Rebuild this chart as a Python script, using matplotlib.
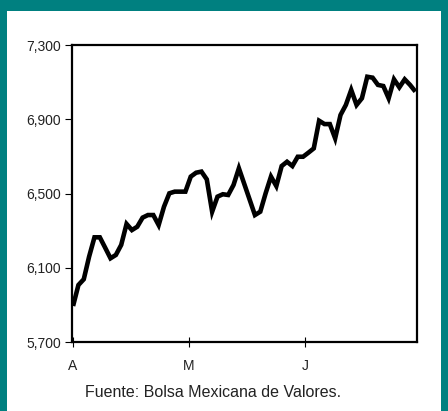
import matplotlib
matplotlib.use("Agg")
import matplotlib.pyplot as plt
from matplotlib.patches import Rectangle

values = [5894, 6007, 6038, 6160, 6264, 6264, 6208, 6151, 6169, 6223,
          6336, 6303, 6321, 6370, 6384, 6384, 6330, 6429, 6501, 6510,
          6510, 6510, 6591, 6612, 6618, 6576, 6402, 6483, 6496, 6492,
          6546, 6636, 6552, 6468, 6384, 6402, 6501, 6591, 6540, 6648,
          6671, 6648, 6698, 6698, 6720, 6743, 6892, 6874, 6874, 6797,
          6923, 6977, 7058, 6977, 7013, 7129, 7124, 7085, 7079, 7013,
          7115, 7072, 7115, 7085, 7049]
month_labels = ["A", "M", "J"]
month_pos = [0, 21.6, 43.4]
y_ticks = [5700, 6100, 6500, 6900, 7300]
source = "Fuente: Bolsa Mexicana de Valores."

W, H = 448, 411
fig = plt.figure(figsize=(W / 100, H / 100), dpi=100)
fig.patch.set_facecolor("#008080")
fig.patches.append(Rectangle((7 / W, 0), (441 - 7) / W, (H - 11) / H,
                             transform=fig.transFigure, facecolor="white",
                             edgecolor="none", zorder=-5))

ax = fig.add_axes([72 / W, 1 - 342 / H, (417 - 72) / W, (342 - 45) / H])
ax.set_zorder(2)
ax.plot(range(len(values)), values, color="black", lw=3.3,
        solid_joinstyle="miter", solid_capstyle="butt")
ax.set_xlim(-0.2, 64.3)
ax.set_ylim(5700, 7300)
ax.set_yticks(y_ticks)
ax.set_yticklabels([f"{v:,}" for v in y_ticks], fontsize=10,
                   family="Liberation Sans", color="#222222")
ax.set_xticks(month_pos)
ax.set_xticklabels(month_labels, fontsize=10, family="Liberation Sans",
                   color="#222222")
ax.tick_params(axis="y", direction="out", length=5, width=0.8, pad=3)
ax.tick_params(axis="x", direction="inout", length=7, width=0.8, pad=8.5)
for s in ax.spines.values():
    s.set_linewidth(1.6)
ax.set_facecolor("white")

fig.text(213.5 / W, 1 - 392 / H, source, ha="center", va="center",
         fontsize=11.5, family="Liberation Sans", color="#222222")

fig.savefig("out.png", dpi=100, facecolor=fig.get_facecolor())
